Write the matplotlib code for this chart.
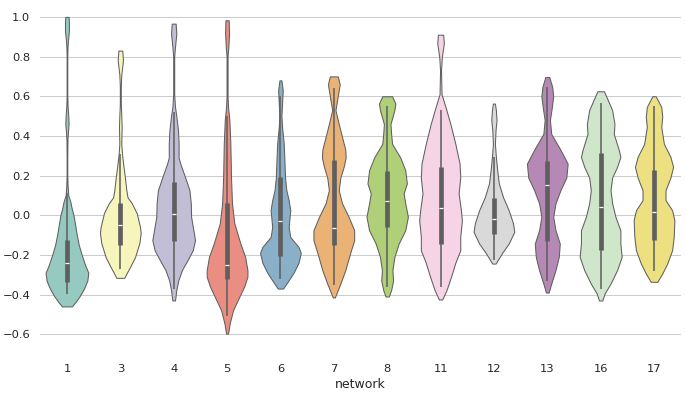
import matplotlib
matplotlib.use("Agg")
import matplotlib.pyplot as plt
import seaborn as sns
from seaborn.external import husl

networks = ["1", "3", "4", "5", "6", "7", "8", "11", "12", "13", "16", "17"]

# violin outlines: (correlation, relative density), top to bottom
outline_1 = [(1.00, 5), (0.97, 6), (0.93, 6), (0.88, 3), (0.84, 1.5), (0.80, 1), (0.60, 1),
             (0.55, 2), (0.50, 4), (0.46, 5), (0.42, 3), (0.38, 1.5), (0.30, 1), (0.20, 1),
             (0.15, 2), (0.10, 4), (0.07, 10), (0.03, 15), (0.00, 20), (-0.05, 25),
             (-0.10, 30), (-0.15, 36), (-0.20, 45), (-0.25, 55), (-0.29, 65), (-0.33, 62),
             (-0.37, 52), (-0.41, 38), (-0.44, 25), (-0.46, 15)]
outline_3 = [(0.83, 6), (0.78, 8), (0.71, 3), (0.65, 1.5), (0.56, 1.5), (0.50, 3), (0.445, 4),
             (0.36, 3), (0.31, 5), (0.24, 10), (0.19, 14), (0.13, 18), (0.09, 22), (0.06, 35),
             (0.01, 50), (-0.06, 60), (-0.09, 62), (-0.14, 58), (-0.21, 45), (-0.26, 30),
             (-0.29, 20), (-0.316, 12)]
outline_4 = [(0.966, 6), (0.916, 8), (0.85, 4), (0.80, 1.5), (0.61, 1.5), (0.546, 4), (0.50, 8),
             (0.43, 13), (0.36, 15), (0.29, 15), (0.26, 20), (0.19, 35), (0.126, 48),
             (0.06, 52), (-0.008, 53), (-0.076, 60), (-0.126, 65), (-0.177, 58),
             (-0.227, 42), (-0.277, 25), (-0.328, 14), (-0.378, 8), (-0.43, 4)]
outline_5 = [(0.983, 5), (0.916, 6), (0.85, 4), (0.80, 1.5), (0.60, 1.5), (0.546, 3), (0.48, 7),
             (0.36, 10), (0.19, 12), (0.06, 15), (-0.04, 22), (-0.14, 40), (-0.21, 55),
             (-0.277, 62), (-0.31, 62), (-0.36, 52), (-0.43, 32), (-0.48, 18), (-0.546, 8),
             (-0.597, 3)]
outline_6 = [(0.68, 3), (0.63, 7), (0.563, 5), (0.50, 3), (0.445, 5), (0.36, 10), (0.28, 12),
             (0.19, 14), (0.126, 18), (0.076, 25), (0.025, 30), (-0.008, 28), (-0.06, 25),
             (-0.11, 30), (-0.16, 55), (-0.19, 62), (-0.24, 55), (-0.29, 40), (-0.336, 22),
             (-0.37, 8)]
outline_7 = [(0.70, 12), (0.66, 18), (0.60, 12), (0.53, 5), (0.46, 15), (0.395, 25), (0.33, 35),
             (0.29, 36), (0.244, 30), (0.19, 20), (0.126, 15), (0.06, 25), (-0.008, 45),
             (-0.076, 62), (-0.126, 62), (-0.19, 50), (-0.277, 35), (-0.345, 20), (-0.415, 3)]
outline_8 = [(0.60, 15), (0.563, 25), (0.53, 22), (0.46, 10), (0.41, 12), (0.36, 15), (0.29, 40),
             (0.227, 55), (0.16, 60), (0.11, 50), (0.06, 55), (-0.008, 63), (-0.076, 55),
             (-0.143, 35), (-0.21, 22), (-0.277, 16), (-0.33, 18), (-0.378, 12), (-0.41, 5)]
outline_11 = [(0.91, 8), (0.866, 10), (0.80, 4), (0.73, 1.5), (0.61, 3), (0.546, 15), (0.46, 30),
              (0.36, 45), (0.26, 58), (0.19, 60), (0.11, 55), (0.025, 62), (-0.025, 65),
              (-0.109, 60), (-0.177, 60), (-0.24, 45), (-0.31, 32), (-0.378, 18), (-0.425, 5)]
outline_12 = [(0.563, 3), (0.53, 6), (0.48, 8), (0.43, 5), (0.36, 3), (0.294, 6), (0.227, 10),
              (0.16, 15), (0.09, 28), (0.025, 45), (-0.04, 58), (-0.084, 62), (-0.143, 45),
              (-0.19, 25), (-0.244, 5)]
outline_13 = [(0.697, 6), (0.647, 15), (0.60, 18), (0.546, 14), (0.48, 8), (0.41, 12), (0.33, 40),
              (0.26, 62), (0.19, 58), (0.126, 40), (0.06, 25), (-0.008, 18), (-0.076, 25),
              (-0.143, 38), (-0.21, 35), (-0.277, 25), (-0.345, 12), (-0.39, 4)]
outline_16 = [(0.625, 10), (0.58, 22), (0.53, 35), (0.46, 42), (0.41, 40), (0.33, 55), (0.294, 60),
              (0.244, 50), (0.19, 35), (0.126, 30), (0.06, 35), (-0.008, 45), (-0.076, 60),
              (-0.143, 60), (-0.21, 64), (-0.277, 50), (-0.345, 30), (-0.395, 12), (-0.43, 5)]
outline_17 = [(0.60, 5), (0.546, 22), (0.496, 25), (0.445, 22), (0.36, 30), (0.294, 50),
              (0.244, 58), (0.19, 50), (0.126, 35), (0.076, 35), (0.025, 55), (-0.025, 62),
              (-0.109, 60), (-0.177, 55), (-0.244, 40), (-0.294, 25), (-0.336, 10)]

outlines = [outline_1, outline_3, outline_4, outline_5, outline_6, outline_7,
            outline_8, outline_11, outline_12, outline_13, outline_16, outline_17]

# inner box stats
q3 = [-0.126, 0.059, 0.165, 0.059, 0.193, 0.28, 0.222, 0.244, 0.087, 0.274, 0.314, 0.23]
med = [-0.239, -0.047, 0.008, -0.249, -0.03, -0.067, 0.074, 0.034, -0.017, 0.151, 0.042, 0.017]
q1 = [-0.336, -0.151, -0.129, -0.324, -0.205, -0.151, -0.062, -0.143, -0.096, -0.129, -0.176, -0.126]
whis_hi = [0.11, 0.31, 0.52, 0.50, 0.60, 0.64, 0.553, 0.53, 0.294, 0.644, 0.566, 0.55]
whis_lo = [-0.395, -0.27, -0.37, -0.51, -0.32, -0.35, -0.36, -0.36, -0.227, -0.33, -0.37, -0.28]

sns.set_theme(style="whitegrid")
colors = sns.color_palette("Set3", len(networks), desat=0.75)
lum = min(husl.rgb_to_husl(*c)[2] for c in colors) * 0.6
gray = (lum / 100,) * 3

fig = plt.figure(figsize=(686 / 75, 397 / 75), dpi=75)
ax = fig.add_axes([0.0587, 0.1083, 0.9336, 0.8741])

peak = max(d for o in outlines for _, d in o)
scale = 0.4 / peak
for i, o in enumerate(outlines):
    ys = [y for y, _ in o]
    ws = [d * scale for _, d in o]
    ax.fill_betweenx(ys, [i - w for w in ws], [i + w for w in ws],
                     facecolor=colors[i], edgecolor=gray, linewidth=1, zorder=2)
    ax.plot([i, i], [whis_lo[i], whis_hi[i]], color=gray, lw=1.5,
            solid_capstyle="butt", zorder=3)
    ax.plot([i, i], [q1[i], q3[i]], color=gray, lw=4.5,
            solid_capstyle="butt", zorder=3)
    ax.plot([i], [med[i]], marker="_", color="white", markersize=4.5,
            markeredgewidth=1.2, zorder=4)

ax.set_xticks(range(len(networks)))
ax.set_xticklabels(networks)
ax.set_xlim(-0.5, len(networks) - 0.5)
ax.set(ylim=(-.7, 1.05))
ax.set_xlabel("network")
ax.xaxis.grid(False)
sns.despine(left=True, bottom=True)

fig.savefig("out.png", dpi=75)
